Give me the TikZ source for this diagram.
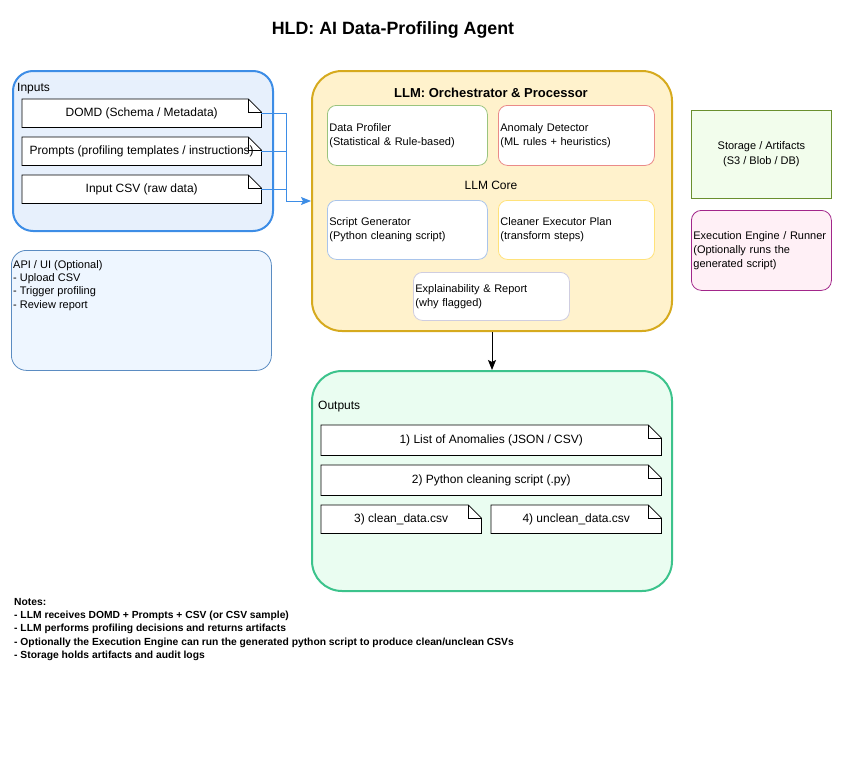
\documentclass[tikz,border=0pt]{standalone}
\usepackage{fontspec}
\setmainfont{Liberation Sans}
\usetikzlibrary{arrows.meta}
\pgfdeclarelayer{background}
\pgfsetlayers{background,main}
\definecolor{inB}{HTML}{3D8DE6}
\definecolor{inF}{HTML}{E7F0FC}
\definecolor{llmB}{HTML}{D6AA1E}
\definecolor{llmF}{HTML}{FFF2CC}
\definecolor{outB}{HTML}{3CC38C}
\definecolor{outF}{HTML}{EAFDF1}
\definecolor{stB}{HTML}{6A8F2E}
\definecolor{stF}{HTML}{F2FDEC}
\definecolor{exB}{HTML}{A2268A}
\definecolor{exF}{HTML}{FFF0F6}
\definecolor{apiB}{HTML}{5B8CC2}
\definecolor{apiF}{HTML}{EEF6FF}
\definecolor{dpB}{HTML}{9AC47E}
\definecolor{adB}{HTML}{EA8A88}
\definecolor{sgB}{HTML}{A9C4EB}
\definecolor{cePB}{HTML}{FFE27A}
\definecolor{exrB}{HTML}{CFCDE0}
\begin{document}
\begin{tikzpicture}[x=1pt,y=-1pt,
  lbl/.style={anchor=west, inner sep=0pt, font=\fontsize{12}{14}\selectfont},
  box/.style={draw, anchor=north west, inner sep=0pt},
  inner/.style={box, fill=white, rounded corners=9pt, line width=0.8pt, align=left,
     text width=#1, inner xsep=2pt, font=\fontsize{11}{14}\selectfont},
  docnode/.style={anchor=north west, inner sep=0pt, font=\fontsize{12}{14}\selectfont},
  docline/.style={draw=black, fill=white, line width=0.8pt},
  link/.style={draw=inB, line width=1pt},
]
\useasboundingbox (0,0) rectangle (842,760);

\node[font=\bfseries\fontsize{17.8}{21}\selectfont] (title) at (393,29.5) {HLD: AI Data-Profiling Agent};

% containers
\begin{pgfonlayer}{background}
\node[box, draw=inB, fill=inF, line width=2pt, rounded corners=20pt, minimum width=260, minimum height=160] (inputs) at (12,70) {};
\node[box, draw=llmB, fill=llmF, line width=2pt, rounded corners=30pt, minimum width=360, minimum height=260] (llm) at (311,70) {};
\node[box, draw=outB, fill=outF, line width=2pt, rounded corners=30pt, minimum width=360, minimum height=220] (outputs) at (311,370) {};
\node[box, draw=apiB, fill=apiF, line width=0.8pt, rounded corners=15pt, minimum width=260, minimum height=120] (api) at (11,250) {};
\end{pgfonlayer}

\node[lbl] (inlbl) at (17,89) {Inputs};
\node[docnode, minimum width=239, minimum height=28] (domd) at (22,99) {DOMD (Schema / Metadata)};
\node[docnode, minimum width=239, minimum height=28] (prompts) at (22,137) {Prompts (profiling templates / instructions)};
\node[docnode, minimum width=239, minimum height=28] (csv) at (22,175) {Input CSV (raw data)};

% LLM container content
\node[font=\bfseries\fontsize{13}{15}\selectfont] (llmt) at (491,93) {LLM: Orchestrator \& Processor};
\node[inner=156pt, draw=dpB, minimum width=160, minimum height=60] (dp) at (327,105) {Data Profiler\\(Statistical \& Rule-based)};
\node[inner=152pt, draw=adB, minimum width=156, minimum height=60] (ad) at (498,105) {Anomaly Detector\\(ML rules + heuristics)};
\node[font=\fontsize{12}{14}\selectfont] (core) at (491,185) {LLM Core};
\node[inner=156pt, draw=sgB, minimum width=160, minimum height=59] (sg) at (327,200) {Script Generator\\(Python cleaning script)};
\node[inner=152pt, draw=cePB, minimum width=156, minimum height=59] (ce) at (498,200) {Cleaner Executor Plan\\(transform steps)};
\node[inner=152pt, draw=exrB, minimum width=156, minimum height=48] (er) at (413,272) {Explainability \& Report\\(why flagged)};

% right side
\node[box, draw=stB, fill=stF, line width=0.8pt, minimum width=140, minimum height=88, align=center, font=\fontsize{11}{15}\selectfont] (storage) at (691,110) {Storage / Artifacts\\(S3 / Blob / DB)};
\node[box, draw=exB, fill=exF, line width=0.8pt, rounded corners=10pt, minimum width=140, minimum height=80, align=left, text width=136pt, inner xsep=2pt, font=\fontsize{11}{14}\selectfont] (exec) at (691,210) {Execution Engine / Runner\\(Optionally runs the\\generated script)};

% API text
\node[anchor=north west, inner sep=0pt, align=left, font=\fontsize{11}{13.4}\selectfont] (apit) at (13,260) {API / UI (Optional)\\- Upload CSV\\- Trigger profiling\\- Review report};

% outputs
\node[lbl] (outlbl) at (318,407) {Outputs};
\node[docnode, minimum width=340, minimum height=30] (o1) at (321,425) {1) List of Anomalies (JSON / CSV)};
\node[docnode, minimum width=340, minimum height=30] (o2) at (321,465) {2) Python cleaning script (.py)};
\node[docnode, minimum width=160, minimum height=28] (o3) at (321,505) {3) clean\_data.csv};
\node[docnode, minimum width=170, minimum height=28] (o4) at (491,505) {4) unclean\_data.csv};

% doc outlines
\begin{pgfonlayer}{background}
\foreach \n in {domd,prompts,csv,o1,o2,o3,o4}{
  \path[docline] (\n.north west) -- ([xshift=-13pt]\n.north east) -- ([yshift=-13pt]\n.north east) -- (\n.south east) -- (\n.south west) -- cycle;
  \draw[line width=0.8pt] ([xshift=-13pt]\n.north east) |- ([yshift=-13pt]\n.north east);
}
\end{pgfonlayer}

% connectors
\coordinate (junc) at (286,201);
\draw[link] (domd.east) -| (junc);
\draw[link] (prompts.east) -- (prompts.east -| junc);
\draw[link] (csv.east) -- (csv.east -| junc);
\draw[link, -{Stealth[length=10pt,width=8pt,inset=2pt]}] (junc) -- (junc -| llm.west);
\draw[line width=1pt, -{Stealth[length=10pt,width=8pt,inset=2pt]}] (llm.south) -- (outputs.north);

% notes
\node[anchor=north west, inner sep=0pt, align=left, font=\bfseries\fontsize{10.3}{13.3}\selectfont] (notes) at (14,598) {Notes:\\- LLM receives DOMD + Prompts + CSV (or CSV sample)\\- LLM performs profiling decisions and returns artifacts\\- Optionally the Execution Engine can run the generated python script to produce clean/unclean CSVs\\- Storage holds artifacts and audit logs};
\end{tikzpicture}
\end{document}
